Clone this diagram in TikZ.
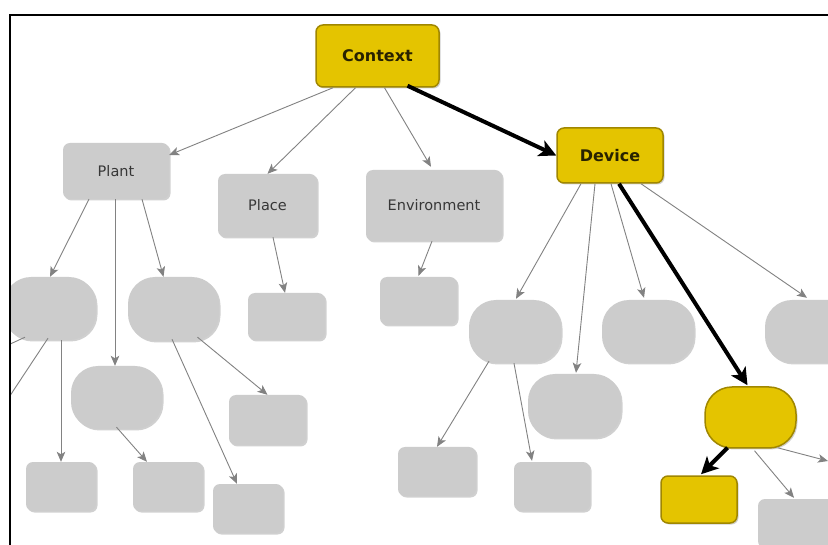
\documentclass[tikz,border=0pt]{standalone}
\usepackage{fontspec}
\setmainfont{DejaVu Sans}
\usetikzlibrary{arrows.meta,calc,shadows}
\definecolor{ylw}{RGB}{228,196,0}
\definecolor{ylwb}{RGB}{160,135,0}
\definecolor{gnode}{RGB}{204,204,204}
\definecolor{gedge}{RGB}{130,130,130}
\definecolor{txt}{RGB}{55,55,55}
\definecolor{ytxt}{RGB}{40,34,0}
\begin{document}
\begin{tikzpicture}[x=1pt,y=-1pt,
  base/.style={inner sep=0pt, drop shadow={shadow xshift=1.5pt,shadow yshift=-1.5pt,opacity=0.3,fill=black!60}},
  grect/.style={base, fill=gnode, rounded corners=7pt, text=txt, font=\fontsize{14.5}{17}\selectfont},
  gstad/.style={base, fill=gnode, rounded corners=27pt},
  yrect/.style={base, fill=ylw, draw=ylwb, line width=1.5pt, rounded corners=7pt, text=ytxt, font=\fontsize{16}{19}\selectfont\bfseries},
  ystad/.style={base, fill=ylw, draw=ylwb, line width=1.5pt, rounded corners=27pt},
  sz/.style 2 args={minimum width=#1pt, minimum height=#2pt},
  gar/.style={draw=gedge, line width=0.9pt, -{Stealth[length=10pt,width=8.5pt,inset=2.5pt]}},
  bar/.style={draw=black, line width=4pt, -{Stealth[length=17pt,width=17pt,inset=4.5pt]}}
]
\useasboundingbox (0,0) rectangle (828,545);
\fill[white] (0,0) rectangle (828,545);
\begin{scope}
\clip (10.5,15.5) rectangle (828,545);
% nodes
\node[yrect, sz={123}{62}] (ctx) at (377.5,56) {Context};
\node[yrect, sz={106}{55}] (dev) at (610,155.5) {Device};
\node[grect, sz={106}{56}] (plant) at (116,171) {Plant};
\node[grect, sz={99}{63}] (place) at (267.5,205.5) {Place};
\node[grect, sz={136}{71}] (env) at (434,205.5) {Environment};
\node[gstad, sz={92}{63}] (a) at (50,308.5) {};
\node[gstad, sz={91}{64}] (b) at (173.5,309) {};
\node[grect, sz={77}{47}] (pc) at (286.5,316.5) {};
\node[grect, sz={77}{48}] (ec) at (418.5,301) {};
\node[gstad, sz={91}{63}] (c) at (116.5,397.5) {};
\node[grect, sz={77}{50}] (d) at (267.5,420) {};
\node[grect, sz={70}{49}] (e) at (61,486.5) {};
\node[grect, sz={70}{49}] (f) at (168,486.5) {};
\node[grect, sz={70}{49}] (g) at (248,508.5) {};
\node[gstad, sz={92}{63}] (h) at (515,331.5) {};
\node[gstad, sz={93}{64}] (i) at (574.5,406) {};
\node[gstad, sz={92}{63}] (j) at (648,331.5) {};
\node[gstad, sz={92}{63}] (k) at (811,331.5) {};
\node[ystad, sz={91}{61}] (l) at (750.5,417.5) {};
\node[yrect, sz={76}{47}] (m) at (699,499.5) {};
\node[grect, sz={77}{49}] (n) at (796.5,523.5) {};
\node[grect, sz={78}{49}] (o) at (437,471.5) {};
\node[grect, sz={76}{49}] (p) at (552,486.5) {};
\coordinate (offa1) at (-20,358);
\coordinate (offa2) at (-10,426);
\coordinate (offr) at (828,461);
% edges
\draw[gar] ($(ctx.south)+(-44.5,0)$) -- ($(plant.east)+(0,-16)$);
\draw[gar] ($(ctx.south)+(-22,0)$) -- (place.north);
\draw[gar] ($(ctx.south)+(7,0)$) -- ($(env.north)+(-3,-3)$);
\draw[bar] ($(ctx.south)+(30,-2)$) -- (dev.west);
\draw[gar] ($(plant.south)+(-27,0)$) -- (a.north);
\draw[gar] ($(plant.south)+(-1,0)$) -- ($(c.north)+(-1.5,0)$);
\draw[gar] ($(plant.south)+(26,0)$) -- ($(b.north)+(-10,0)$);
\draw[gar] ($(place.south)+(5.5,0)$) -- ($(pc.north)+(-1.5,0)$);
\draw[gar] ($(env.south)+(-2,0)$) -- ($(ec.north)+(0,-1)$);
\draw[gar] ($(a.south)+(-25,-3)$) -- (offa1);
\draw[gar] ($(a.south)+(-2,-2)$) -- (offa2);
\draw[gar] ($(a.south)+(11,0)$) -- (e.north);
\draw[gar] ($(b.south)+(-1.5,-2)$) -- ($(g.north)+(-11,0)$);
\draw[gar] ($(b.south)+(24,-4)$) -- (d.north);
\draw[gar] ($(c.south)+(0,-2)$) -- ($(f.north)+(-21,0)$);
\draw[gar] ($(dev.south)+(-29,0)$) -- ($(h.north)+(1,-1)$);
\draw[gar] ($(dev.south)+(-15,0)$) -- ($(i.north)+(1.5,-1)$);
\draw[gar] ($(dev.south)+(1,0)$) -- ($(j.north)+(-4,-2)$);
\draw[gar] ($(dev.south)+(31,0)$) -- ($(k.north)+(-4,-2)$);
\draw[bar] ($(dev.south)+(9,0)$) -- ($(l.north)+(-3,-1)$);
\draw[gar] ($(h.south)+(-26,-2)$) -- (o.north);
\draw[gar] ($(h.south)+(-1,0)$) -- ($(p.north)+(-20,-1)$);
\draw[bar] ($(l.south)+(-23,-1)$) -- ($(m.north)+(2,-1)$);
\draw[gar] ($(l.south)+(4,2)$) -- ($(n.north)+(-2.5,-1)$);
\draw[gar] ($(l.south)+(27,-1)$) -- (offr);
\end{scope}
\draw[line width=2.2pt, line cap=rect] (10,545) -- (10,14.8) -- (828,14.8);
\end{tikzpicture}
\end{document}
